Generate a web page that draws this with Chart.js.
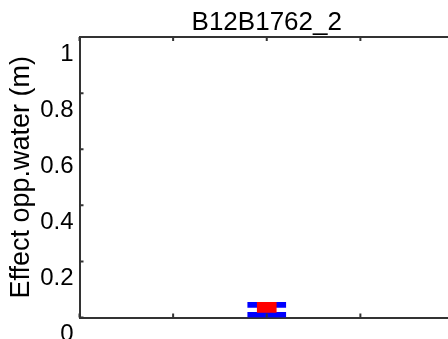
<!DOCTYPE html>
<html>
<head>
<meta charset="utf-8">
<script src="https://cdn.jsdelivr.net/npm/chart.js@4/dist/chart.umd.min.js"></script>
<style>
  html, body { margin: 0; padding: 0; overflow: hidden; background: #fff; }
  canvas { display: block; }
</style>
</head>
<body>
<canvas id="c" width="454" height="339"></canvas>
<script>
// Labels
const chartTitle = 'B12B1762_2';
const yAxisTitle = 'Effect opp.water (m)';

// Box glyph at position 2: two blue bands with a red box between them
const positions = [2];
const upperBand = [[0.036, 0.054]];
const centreBox = [[0.018, 0.054]];
const lowerBand = [[0.0, 0.018]];

// Axis ticks
const xTicks = [0, 1, 2, 3, 4];
const yTicks = [0, 0.2, 0.4, 0.6, 0.8, 1];
const yTickLabels = ['0', '0.2', '0.4', '0.6', '0.8', '1'];

const FONT = "'Liberation Sans', Arial, Helvetica, sans-serif";
const AXIS_COLOR = '#333333';
const BLUE = '#0000ff';
const RED = '#ff0000';

const toPoints = (ranges) => ranges.map((r, i) => ({ x: positions[i], y: r }));

// Tick marks drawn inward from the frame edges
const inwardTicks = {
  id: 'inwardTicks',
  afterDatasetsDraw(chart) {
    const { ctx, chartArea: a, scales } = chart;
    ctx.save();
    ctx.strokeStyle = AXIS_COLOR;
    ctx.lineWidth = 2;
    ctx.beginPath();
    xTicks.forEach(v => {
      const px = scales.x.getPixelForValue(v);
      ctx.moveTo(px, a.bottom); ctx.lineTo(px, a.bottom - 4);
      ctx.moveTo(px, a.top); ctx.lineTo(px, a.top + 4);
    });
    yTicks.forEach(v => {
      const py = scales.y.getPixelForValue(v);
      ctx.moveTo(a.left, py); ctx.lineTo(a.left + 4, py);
    });
    ctx.stroke();
    ctx.restore();
  }
};

new Chart(document.getElementById('c'), {
  type: 'bar',
  data: {
    datasets: [
      { data: toPoints(centreBox), backgroundColor: RED, barThickness: 19, order: 0 },
      { data: toPoints(upperBand), backgroundColor: BLUE, barThickness: 38, order: 1 },
      { data: toPoints(lowerBand), backgroundColor: BLUE, barThickness: 38, order: 1 }
    ]
  },
  options: {
    responsive: false,
    animation: false,
    devicePixelRatio: 1,
    datasets: { bar: { grouped: false, borderWidth: 0, borderSkipped: false } },
    layout: { padding: 0 },
    plugins: {
      legend: { display: false },
      tooltip: { enabled: false },
      title: {
        display: true,
        text: chartTitle,
        fullSize: false,
        color: '#000',
        font: { family: FONT, size: 26, weight: 'normal', lineHeight: 1.1 },
        padding: { top: 8.5, bottom: 0 }
      }
    },
    scales: {
      x: {
        type: 'linear',
        position: 'bottom',
        min: 0, max: 4,
        offset: false,
        afterBuildTicks: (s) => { s.ticks = xTicks.map(v => ({ value: v })); },
        ticks: { display: false },
        grid: { display: false, drawTicks: false },
        border: { display: true, color: AXIS_COLOR, width: 2 },
        afterFit: (s) => { s.height = 21.5; }
      },
      x2: {
        type: 'linear',
        position: 'top',
        min: 0, max: 4,
        offset: false,
        ticks: { display: false },
        grid: { display: false, drawTicks: false },
        border: { display: true, color: AXIS_COLOR, width: 2 },
        afterFit: (s) => { s.height = 0; }
      },
      y: {
        type: 'linear',
        position: 'left',
        min: 0, max: 1,
        afterBuildTicks: (s) => { s.ticks = yTicks.map(v => ({ value: v })); },
        ticks: {
          color: '#000',
          font: { family: FONT, size: 24 },
          padding: 6,
          labelOffset: 17,
          callback: (v) => yTickLabels[yTicks.indexOf(v)]
        },
        grid: { display: false, drawTicks: false },
        border: { display: true, color: AXIS_COLOR, width: 2 },
        title: {
          display: true,
          text: yAxisTitle,
          color: '#000',
          font: { family: FONT, size: 27, lineHeight: 1.1 },
          padding: { top: 7, bottom: 0 }
        },
        afterFit: (s) => { s.width = 79.5; }
      }
    }
  },
  plugins: [inwardTicks]
});
</script>
</body>
</html>
